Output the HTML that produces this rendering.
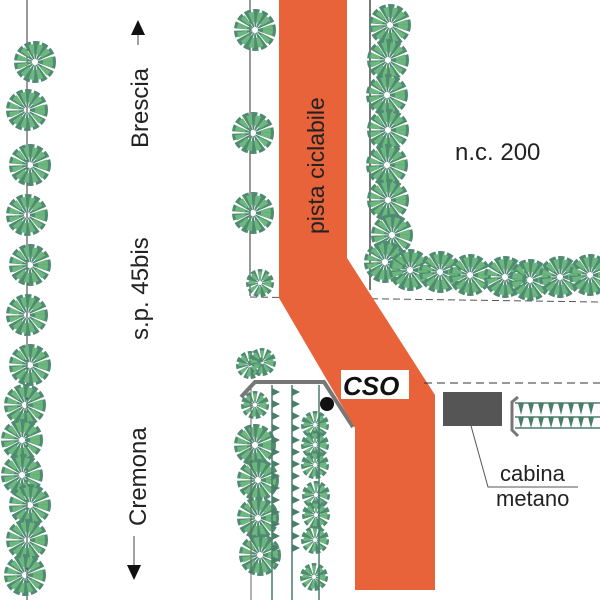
<!DOCTYPE html>
<html><head><style>
body{margin:0;background:#fff}
svg{display:block}
text{font-family:"Liberation Sans",sans-serif}
</style></head><body>
<svg width="600" height="600" viewBox="0 0 600 600" xmlns="http://www.w3.org/2000/svg">
<defs>
<g id="t">
<circle r="12" fill="none" stroke="#4f8a72" stroke-width="18" stroke-dasharray="4 1.5"/>
<circle r="13" fill="none" stroke="#6cb77c" stroke-width="10" stroke-dasharray="4 3"/>
</g>
<g id="s">
<circle r="8" fill="none" stroke="#4f8a72" stroke-width="12" stroke-dasharray="3 1.5"/>
<circle r="8" fill="none" stroke="#6cb77c" stroke-width="7" stroke-dasharray="3 3"/>
</g>
</defs>
<!-- left tree row -->
<line x1="27" y1="0" x2="27" y2="600" stroke="#333" stroke-width="1"/>
<use href="#t" x="35" y="62"/><use href="#t" x="27" y="110"/><use href="#t" x="30" y="165"/>
<use href="#t" x="27" y="215"/><use href="#t" x="30" y="265"/><use href="#t" x="27" y="315"/>
<use href="#t" x="30" y="365"/><use href="#t" x="25" y="405"/><use href="#t" x="22" y="440"/>
<use href="#t" x="22" y="475"/><use href="#t" x="30" y="505"/><use href="#t" x="27" y="540"/>
<use href="#t" x="25" y="575"/>
<!-- direction labels -->
<text transform="translate(148,148) rotate(-90)" font-size="24" fill="#222">Brescia</text>
<line x1="138" y1="45" x2="138" y2="35" stroke="#444"/>
<polygon points="131,35 145,35 138,20" fill="#111"/>
<text transform="translate(148,340) rotate(-90)" font-size="24" fill="#222">s.p. 45bis</text>
<text transform="translate(146,526) rotate(-90)" font-size="24" fill="#222">Cremona</text>
<line x1="134" y1="536" x2="134" y2="565" stroke="#444"/>
<polygon points="127,565 141,565 134,580" fill="#111"/>
<!-- upper right lines -->
<line x1="250" y1="0" x2="250" y2="296" stroke="#777" stroke-width="1.5"/>
<line x1="370" y1="0" x2="370" y2="290" stroke="#777" stroke-width="2"/>
<line x1="250" y1="297" x2="600" y2="302" stroke="#555" stroke-dasharray="7 4"/>
<use href="#t" x="255" y="30"/><use href="#t" x="253" y="133"/><use href="#t" x="253" y="213"/><use href="#s" x="260" y="283"/>
<use href="#t" x="390" y="25"/><use href="#t" x="388" y="60"/><use href="#t" x="387" y="95"/><use href="#t" x="388" y="130"/><use href="#t" x="387" y="165"/><use href="#t" x="388" y="200"/><use href="#t" x="392" y="235"/><use href="#t" x="385" y="262"/><use href="#t" x="410" y="270"/>
<use href="#t" x="440" y="272"/><use href="#t" x="470" y="275"/><use href="#t" x="505" y="277"/><use href="#t" x="530" y="280"/><use href="#t" x="560" y="277"/><use href="#t" x="590" y="275"/>
<text x="455" y="160" font-size="24" fill="#222">n.c. 200</text>
<!-- lower left -->
<use href="#s" x="250" y="365"/><use href="#s" x="262" y="362"/><use href="#s" x="255" y="405"/>
<use href="#t" x="255" y="445"/><use href="#t" x="258" y="480"/><use href="#t" x="258" y="518"/><use href="#t" x="260" y="555"/>
<use href="#s" x="315" y="425"/><use href="#s" x="315" y="445"/><use href="#s" x="315" y="465"/><use href="#s" x="316" y="495"/><use href="#s" x="316" y="515"/><use href="#s" x="315" y="540"/><use href="#s" x="314" y="577"/>
<g stroke="#4a7d6a" stroke-width="1.5">
<line x1="272" y1="385" x2="272" y2="600"/><line x1="292" y1="385" x2="292" y2="600"/><line x1="319" y1="385" x2="319" y2="600"/><line x1="251" y1="385" x2="251" y2="600" stroke="#666" stroke-width="1"/>
</g>
<g fill="#4a7d6a">
<path d="M272 388 L280 392 L272 396 Z M272 400 L280 404 L272 408Z M272 412 L280 416 L272 420Z M272 424 L280 428 L272 432Z M272 436 L280 440 L272 444Z M272 448 L280 452 L272 456Z M272 460 L280 464 L272 468Z M272 472 L280 476 L272 480Z M272 484 L280 488 L272 492Z M272 496 L280 500 L272 504Z M272 508 L280 512 L272 516Z M272 520 L280 524 L272 528Z M272 532 L280 536 L272 540Z M272 544 L280 548 L272 552Z M272 556 L280 560 L272 564Z"/>
<path d="M292 388 L300 392 L292 396 Z M292 400 L300 404 L292 408Z M292 412 L300 416 L292 420Z M292 424 L300 428 L292 432Z M292 436 L300 440 L292 444Z M292 448 L300 452 L292 456Z M292 460 L300 464 L292 468Z M292 472 L300 476 L292 480Z M292 484 L300 488 L292 492Z M292 496 L300 500 L292 504Z M292 508 L300 512 L292 516Z M292 520 L300 524 L292 528Z M292 532 L300 536 L292 540Z M292 544 L300 548 L292 552Z"/>
</g>
<polyline points="241,397 255,382 324,382 353,427" fill="none" stroke="#777" stroke-width="4"/>
<circle cx="327" cy="404" r="7" fill="#111"/>
<!-- bike path -->
<polygon points="279,0 347,0 347,258 435,395 435,590 355,590 355,428 279,298" fill="#e8623a"/>
<text transform="translate(324,234) rotate(-90)" font-size="23" fill="#222">pista ciclabile</text>
<rect x="341" y="370" width="68" height="29" fill="#fff"/>
<text x="343" y="395" font-size="26" font-weight="bold" font-style="italic" fill="#111">CSO</text>
<!-- right lower -->
<line x1="424" y1="383" x2="600" y2="383" stroke="#333" stroke-dasharray="8 5"/>
<rect x="443" y="392" width="59" height="34" fill="#555"/>
<polyline points="518,397 512,402 512,430 518,436" fill="none" stroke="#777" stroke-width="3"/>
<g stroke="#4a7d6a" stroke-width="1.5"><line x1="515" y1="403" x2="600" y2="403"/><line x1="515" y1="417" x2="600" y2="417"/><line x1="515" y1="428" x2="600" y2="428"/></g>
<g fill="#4a7d6a">
<path d="M518 403 l3 12 l3 -12Z M528 403 l3 12 l3 -12Z M538 403 l3 12 l3 -12Z M548 403 l3 12 l3 -12Z M558 403 l3 12 l3 -12Z M568 403 l3 12 l3 -12Z M578 403 l3 12 l3 -12Z M588 403 l3 12 l3 -12Z"/>
<path d="M518 417 l3 11 l3 -11Z M528 417 l3 11 l3 -11Z M538 417 l3 11 l3 -11Z M548 417 l3 11 l3 -11Z M558 417 l3 11 l3 -11Z M568 417 l3 11 l3 -11Z M578 417 l3 11 l3 -11Z M588 417 l3 11 l3 -11Z"/>
</g>
<polyline points="468,415 488,487 578,487" fill="none" stroke="#555" stroke-width="1"/>
<text x="500" y="481" font-size="22" fill="#222">cabina</text>
<text x="496" y="506" font-size="22" fill="#222">metano</text>
</svg>
</body></html>
